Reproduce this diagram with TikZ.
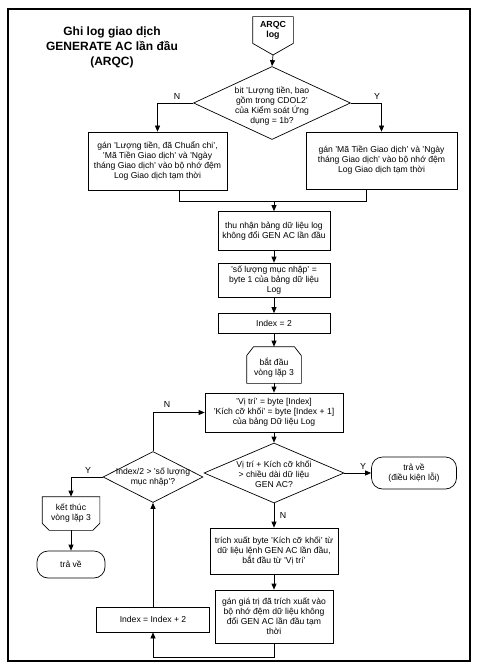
\documentclass[tikz,border=0pt]{standalone}
\usepackage{fontspec}
\setmainfont{Liberation Sans}
\usetikzlibrary{arrows.meta,shapes.geometric,calc}
\begin{document}
\begin{tikzpicture}[x=1pt,y=-1pt,line width=0.7pt,
  every node/.style={font=\fontsize{8.6}{10}\selectfont,align=center,inner sep=0pt},
  arr/.style={-{Triangle[length=6pt,width=5pt]}},
  proc/.style={draw,rectangle},
  dia/.style={draw,diamond,inner sep=0pt},
  term/.style={draw,rounded corners=11pt},
  lbl/.style={font=\fontsize{8.8}{10}\selectfont}]
\useasboundingbox (0,0) rectangle (477,668);
\draw[line width=1.1pt] (8,9) rectangle (470,661);

% title
\node[font=\fontsize{12}{15}\selectfont\bfseries] (title) at (112,47) {Ghi log giao dịch\\GENERATE AC lần đầu\\(ARQC)};

% ARQC off-page connector
\node[minimum width=40,minimum height=26,font=\fontsize{8.8}{10}\selectfont\bfseries] (arqc) at (273,30) {ARQC\\log};
\coordinate (arqcTip) at (273,55);
\draw (arqc.north west) -- (arqc.north east) -- (arqc.south east) -- (arqcTip) -- (arqc.south west) -- cycle;

% decision 1
\node[dia,minimum width=157,minimum height=73] (d1) at (272,103) {};
\node (d1t) at (272,106) {bit 'Lượng tiền, bao\\gồm trong CDOL2'\\của Kiểm soát Ứng\\dụng = 1b?};
\draw[arr] (arqcTip) -- (d1.north);

\node[proc,minimum width=139,minimum height=58] (lb) at (157.5,161) {gán 'Lượng tiền, đã Chuẩn chi',\\'Mã Tiền Giao dịch' và 'Ngày\\tháng Giao dịch' vào bộ nhớ đệm\\Log Giao dịch tạm thời};
\node[proc,minimum width=151,minimum height=57] (rb) at (381.5,160.5) {gán 'Mã Tiền Giao dịch' và 'Ngày\\tháng Giao dịch' vào bộ nhớ đệm\\Log Giao dịch tạm thời};
\draw[arr] (d1.west) -| (lb.north);
\draw[arr] (d1.east) -| (rb.north);
\node[lbl] (nN1) at (177,96) {N};
\node[lbl] (nY1) at (377,96) {Y};

% merge
\coordinate (mL) at (179,201);
\coordinate (mR) at (366,201);
\coordinate (m) at (274,201);
\draw (lb.south -| mL) -- (mL) -- (mR) -- (rb.south -| mR);

\node[proc,minimum width=112,minimum height=39] (b3) at (274,231) {thu nhận bảng dữ liệu log\\không đổi GEN AC lần đầu};
\draw[arr] (m) -- (b3.north);
\node[proc,minimum width=112,minimum height=34] (b4) at (274,280) {'số lượng mục nhập' =\\byte 1 của bảng dữ liệu\\Log};
\draw[arr] (b3.south) -- (b4.north);
\node[proc,minimum width=112,minimum height=20] (b5) at (274,323.5) {Index = 2};
\draw[arr] (b4.south) -- (b5.north);

% loop start
\node[minimum width=54,minimum height=36] (ls) at (274,365) {};
\node (lst) at (274,368) {bắt đầu\\vòng lặp 3};
\draw ($(ls.north west)+(0,9)$) -- ($(ls.north west)+(7,0)$) -- ($(ls.north east)+(-7,0)$) -- ($(ls.north east)+(0,9)$) -- (ls.south east) -- (ls.south west) -- cycle;
\draw[arr] (b5.south) -- (ls.north);

\node[proc,minimum width=138,minimum height=39] (b6) at (274,412.5) {'Vị trí' = byte [Index]\\'Kích cỡ khối' = byte [Index + 1]\\của bảng Dữ liệu Log};
\draw[arr] (ls.south) -- (b6.north);

% decision 2
\node[dia,minimum width=140,minimum height=60] (d2) at (274,473) {};
\node (d2t) at (274,474) {Vị trí + Kích cỡ khối\\> chiều dài dữ liệu\\GEN AC?};
\draw[arr] (b6.south) -- (d2.north);
\node[term,minimum width=85,minimum height=32] (err) at (414,473) {trả về\\(điều kiện lỗi)};
\draw[arr] (d2.east) -- (err.west);
\node[lbl] (nY2) at (363,466) {Y};
\node[lbl] (nN2) at (283,515) {N};

\node[proc,minimum width=128,minimum height=46] (b7) at (274,551) {trích xuất byte 'Kích cỡ khối' từ\\dữ liệu lệnh GEN AC lần đầu,\\bắt đầu từ 'Vị trí'};
\draw[arr] (d2.south) -- (b7.north);
\node[proc,minimum width=118,minimum height=53] (b8) at (274,616.5) {gán giá trị đã trích xuất vào\\bộ nhớ đệm dữ liệu không\\đổi GEN AC lần đầu tạm\\thời};
\draw[arr] (b7.south) -- (b8.north);

\node[proc,minimum width=113,minimum height=25] (ix) at (153,619.5) {Index = Index + 2};
\coordinate (lp) at (153,657);
\draw[arr] (b8.south) |- (lp) -- (ix.south);

% decision 3
\node[dia,minimum width=100,minimum height=51] (d3) at (153,477) {};
\node (d3t) at (153,477) {Index/2 > 'số lượng\\mục nhập'?};
\draw[arr] (ix.north) -- (d3.south);
\draw[arr] (d3.north) |- (b6.west);
\node[lbl] (nN3) at (167,404) {N};

% loop end
\node[minimum width=57,minimum height=33] (le) at (71,513.5) {kết thúc\\vòng lặp 3};
\draw (le.north west) -- (le.north east) -- ($(le.south east)+(0,-7)$) -- ($(le.south east)+(-7,0)$) -- ($(le.south west)+(7,0)$) -- ($(le.south west)+(0,-7)$) -- cycle;
\draw[arr] (d3.west) -| (le.north);
\node[lbl] (nY3) at (88,470) {Y};

\node[term,minimum width=68,minimum height=27] (ret) at (71,564.5) {trả về};
\draw[arr] (le.south) -- (ret.north);
\end{tikzpicture}
\end{document}
